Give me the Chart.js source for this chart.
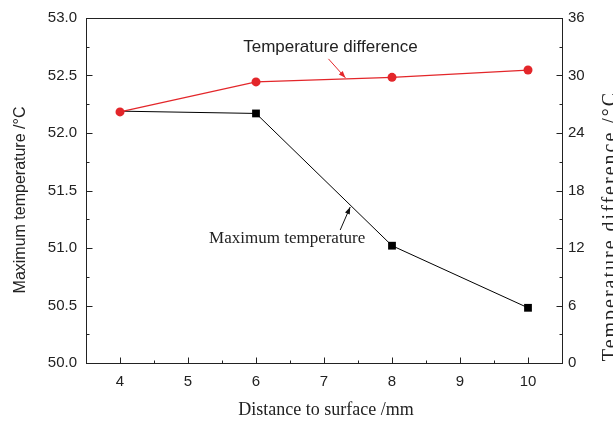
<!DOCTYPE html>
<html>
<head>
<meta charset="utf-8">
<script src="https://cdn.jsdelivr.net/npm/chart.js@4/dist/chart.umd.min.js"></script>
<style>
html,body{margin:0;padding:0;background:#fff;}
canvas{display:block;}
</style>
</head>
<body>
<canvas id="c" width="613" height="426"></canvas>
<script>
// ---- data ----
const distances = [4, 6, 8, 10];
const maxTemperature = [52.19, 52.17, 51.02, 50.48];
const tempDifference = [26.2, 29.33, 29.81, 30.57];
const xTickValues = [4, 5, 6, 7, 8, 9, 10];
const xMinorValues = [4.5, 5.5, 6.5, 7.5, 8.5, 9.5];
const leftTickValues = [50.0, 50.5, 51.0, 51.5, 52.0, 52.5, 53.0];
const leftMinorValues = [50.25, 50.75, 51.25, 51.75, 52.25, 52.75];
const rightTickValues = [0, 6, 12, 18, 24, 30, 36];
const rightMinorValues = [3, 9, 15, 21, 27, 33];
const xTitle = 'Distance to surface /mm';
const leftTitle = 'Maximum temperature /\u00B0C';
const rightTitle = 'Temperature difference /\u00B0C';
const seriesNames = ['Maximum temperature', 'Temperature difference'];
// annotation anchors in data coordinates (x value on the line where arrow points)
const arrowTargetsX = [7.40, 7.33];

const RED = '#e3262a';
const INK = '#222';

const decor = {
  id: 'decor',
  beforeDatasetsDraw(chart) {
    const ctx = chart.ctx, a = chart.chartArea;
    const xs = chart.scales.x, yl = chart.scales.y, yr = chart.scales.y1;
    ctx.save();
    ctx.strokeStyle = INK;
    ctx.lineWidth = 1;
    const L = Math.round(a.left) + 0.5, R = Math.round(a.right) + 0.5;
    const T = Math.round(a.top) + 0.5, B = Math.round(a.bottom) + 0.5;
    ctx.strokeRect(L, T, R - L, B - T);
    ctx.beginPath();
    const tick = (vals, len, fn) => vals.forEach(v => fn(v, len));
    const xt = (v, len) => { const p = Math.round(xs.getPixelForValue(v)) + 0.5; ctx.moveTo(p, B); ctx.lineTo(p, B - len); };
    const ylt = (v, len) => { const p = Math.round(yl.getPixelForValue(v)) + 0.5; ctx.moveTo(L, p); ctx.lineTo(L + len, p); };
    const yrt = (v, len) => { const p = Math.round(yr.getPixelForValue(v)) + 0.5; ctx.moveTo(R, p); ctx.lineTo(R - len, p); };
    tick(xTickValues, 6, xt); tick(xMinorValues, 3, xt);
    tick(leftTickValues, 6, ylt); tick(leftMinorValues, 3, ylt);
    tick(rightTickValues, 6, yrt); tick(rightMinorValues, 3, yrt);
    ctx.stroke();
    ctx.restore();
  },
  afterDatasetsDraw(chart) {
    const ctx = chart.ctx;
    const xs = chart.scales.x, yl = chart.scales.y, yr = chart.scales.y1;
    const interp = (xv, arr) => {
      for (let i = 0; i < distances.length - 1; i++) {
        if (xv >= distances[i] && xv <= distances[i + 1]) {
          const t = (xv - distances[i]) / (distances[i + 1] - distances[i]);
          return arr[i] + t * (arr[i + 1] - arr[i]);
        }
      }
      return arr[0];
    };
    const arrow = (x0, y0, x1, y1, color) => {
      ctx.save();
      ctx.strokeStyle = color; ctx.fillStyle = color; ctx.lineWidth = 1;
      ctx.beginPath(); ctx.moveTo(x0, y0); ctx.lineTo(x1, y1); ctx.stroke();
      const ang = Math.atan2(y1 - y0, x1 - x0), h = 7, w = 2.6;
      ctx.beginPath();
      ctx.moveTo(x1, y1);
      ctx.lineTo(x1 - h * Math.cos(ang) + w * Math.sin(ang), y1 - h * Math.sin(ang) - w * Math.cos(ang));
      ctx.lineTo(x1 - h * Math.cos(ang) - w * Math.sin(ang), y1 - h * Math.sin(ang) + w * Math.cos(ang));
      ctx.closePath(); ctx.fill();
      ctx.restore();
    };
    // black series annotation
    const bx = xs.getPixelForValue(arrowTargetsX[0]);
    const by = yl.getPixelForValue(interp(arrowTargetsX[0], maxTemperature));
    arrow(bx - 11, by + 24, bx - 1, by + 1, '#111');
    // red series annotation
    const rx = xs.getPixelForValue(arrowTargetsX[1]);
    const ry = yr.getPixelForValue(interp(arrowTargetsX[1], tempDifference));
    arrow(rx - 18, ry - 20, rx - 1, ry - 1, RED);

    ctx.save();
    ctx.fillStyle = INK;
    ctx.textAlign = 'center'; ctx.textBaseline = 'middle';
    ctx.font = '17px "Liberation Serif", "Times New Roman", serif';
    ctx.fillText(seriesNames[0], bx - 64, by + 33);
    ctx.font = '17px "Liberation Sans", Arial, sans-serif';
    ctx.fillText(seriesNames[1], rx - 16, ry - 32);

    // axis titles
    ctx.font = '18px "Liberation Serif", "Times New Roman", serif';
    ctx.textBaseline = 'middle';
    ctx.fillText(xTitle, 326, 410);

    ctx.save();
    ctx.translate(25, 200);
    ctx.rotate(-Math.PI / 2);
    ctx.textBaseline = 'alphabetic';
    ctx.font = '16px "Liberation Sans", Arial, sans-serif';
    ctx.fillText(leftTitle, 0, 0);
    ctx.restore();

    ctx.save();
    ctx.translate(616, 226);
    ctx.rotate(-Math.PI / 2);
    ctx.textBaseline = 'alphabetic';
    ctx.font = '20px "Liberation Serif", "Times New Roman", serif';
    try { ctx.letterSpacing = '2px'; } catch (e) {}
    ctx.fillText(rightTitle, 0, 0);
    ctx.restore();
    ctx.restore();
  }
};

const tickFont = { family: '"Liberation Sans", Arial, sans-serif', size: 15 };

new Chart(document.getElementById('c'), {
  type: 'line',
  data: {
    datasets: [
      {
        label: seriesNames[0],
        data: distances.map((d, i) => ({ x: d, y: maxTemperature[i] })),
        yAxisID: 'y',
        borderColor: '#000',
        backgroundColor: '#000',
        borderWidth: 1,
        pointStyle: 'rect',
        // first marker sits under the red circle in the reference
        pointRadius: ctx => (ctx.dataIndex === 0 ? 0 : 5.5),
        pointBorderWidth: 0,
        tension: 0,
        order: 1
      },
      {
        label: seriesNames[1],
        data: distances.map((d, i) => ({ x: d, y: tempDifference[i] })),
        yAxisID: 'y1',
        borderColor: RED,
        backgroundColor: RED,
        borderWidth: 1.2,
        pointStyle: 'circle',
        pointRadius: 4.5,
        pointBorderWidth: 0,
        tension: 0,
        order: 0
      }
    ]
  },
  options: {
    responsive: false,
    animation: false,
    devicePixelRatio: 1,
    layout: { padding: { top: 16, left: 0, right: 0, bottom: 0 } },
    plugins: { legend: { display: false }, tooltip: { enabled: false } },
    scales: {
      x: {
        type: 'linear', min: 3.5, max: 10.5,
        afterBuildTicks: s => { s.ticks = xTickValues.map(v => ({ value: v })); },
        afterFit: s => { s.height = 63; },
        grid: { display: false, drawTicks: false },
        border: { display: false },
        ticks: { font: tickFont, color: INK, padding: 10, maxRotation: 0, autoSkip: false, callback: v => String(v) }
      },
      y: {
        type: 'linear', position: 'left', min: 50, max: 53,
        afterBuildTicks: s => { s.ticks = leftTickValues.map(v => ({ value: v })); },
        afterFit: s => { s.width = 86; },
        grid: { display: false, drawTicks: false },
        border: { display: false },
        ticks: { font: tickFont, color: INK, padding: 9, autoSkip: false, callback: v => Number(v).toFixed(1) }
      },
      y1: {
        type: 'linear', position: 'right', min: 0, max: 36,
        afterBuildTicks: s => { s.ticks = rightTickValues.map(v => ({ value: v })); },
        afterFit: s => { s.width = 51; },
        grid: { display: false, drawTicks: false },
        border: { display: false },
        ticks: { font: tickFont, color: INK, padding: 6, autoSkip: false, callback: v => String(v) }
      }
    }
  },
  plugins: [decor]
});
</script>
</body>
</html>
